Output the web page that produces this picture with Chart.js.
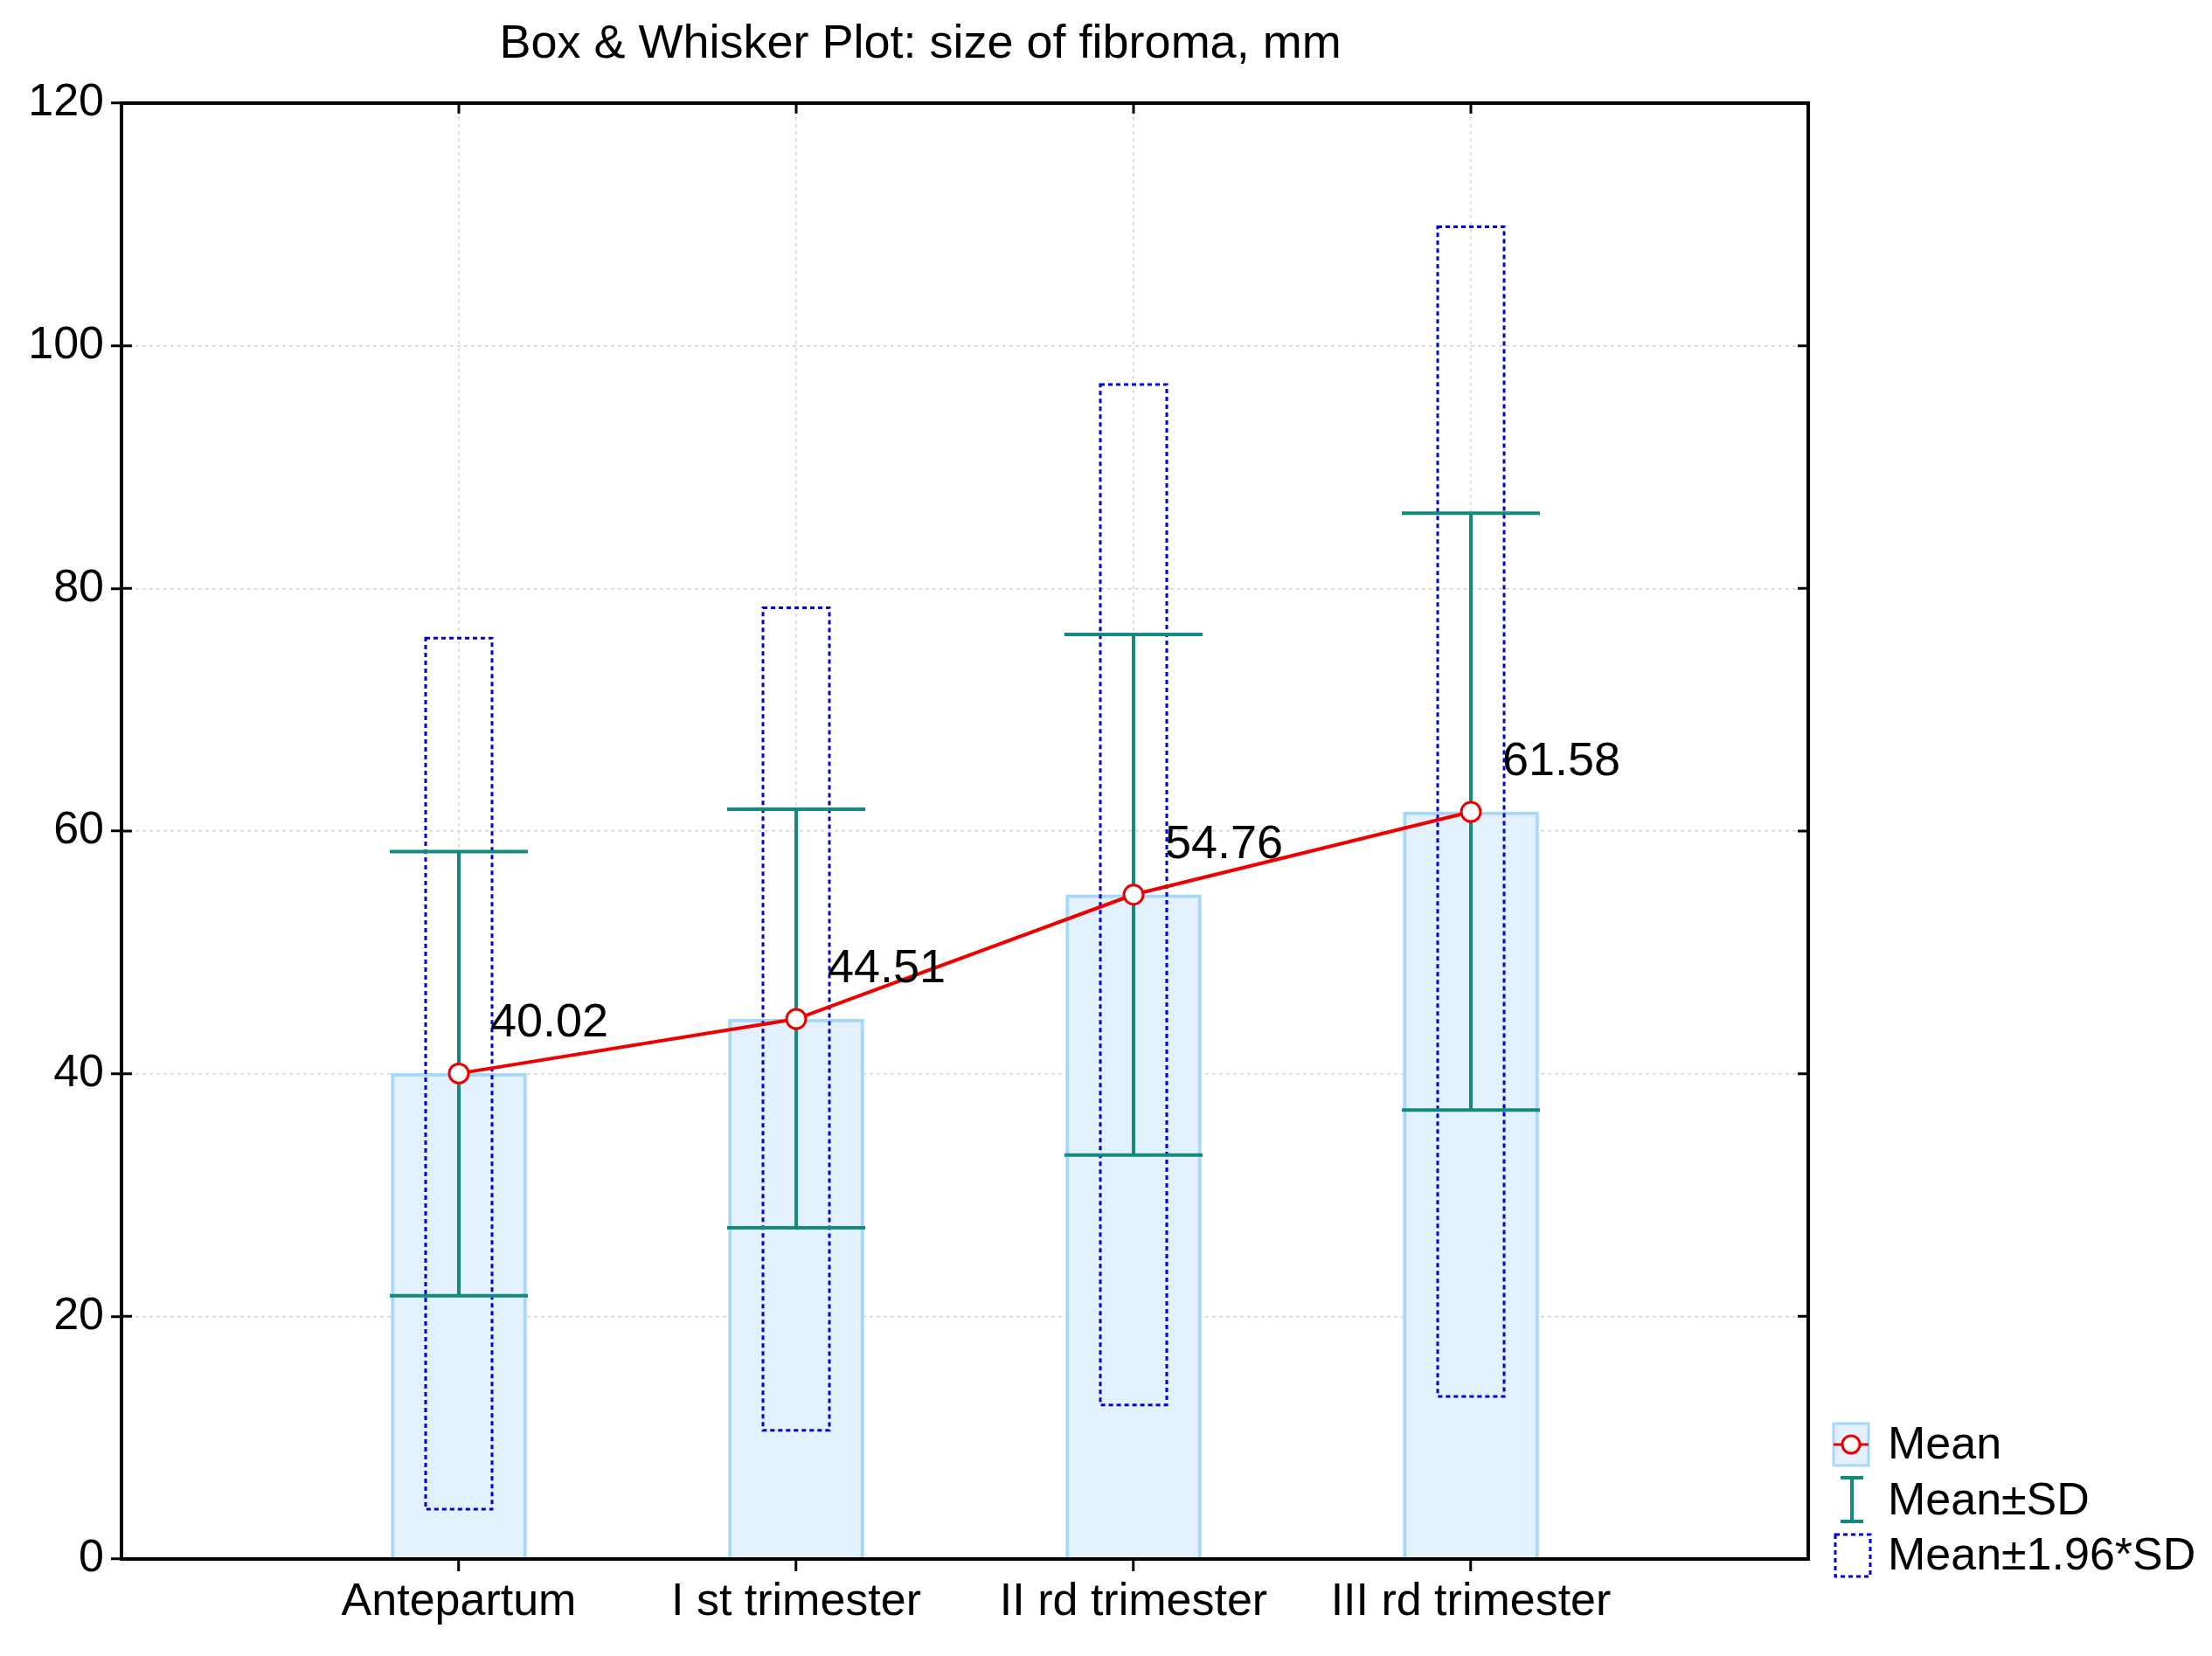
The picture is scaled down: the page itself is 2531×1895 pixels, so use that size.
<!DOCTYPE html>
<html><head><meta charset="utf-8">
<script src="https://cdn.jsdelivr.net/npm/chart.js@4"></script>
<style>html,body{margin:0;padding:0;background:#fff}</style>
</head><body>
<canvas id="c" width="2531" height="1895"></canvas>
<script>
const categories = ["Antepartum","I st trimester","II rd trimester","III rd trimester"];
const means = [40.02, 44.51, 54.76, 61.58];
const sdLow = [21.7, 27.3, 33.3, 37.0];
const sdHigh = [58.3, 61.8, 76.2, 86.2];
const ciLow = [4.1, 10.6, 12.7, 13.4];
const ciHigh = [75.9, 78.4, 96.8, 109.8];
const yTicks = [0,20,40,60,80,100,120];

const FONT = 'Arial, "Liberation Sans", sans-serif';
const pts = (arr) => arr.map((v,i)=>({x:i+1,y:v}));

const overlay = {
  id:'overlay',
  afterDatasetsDraw(chart){
    const {ctx, scales:{x,y}} = chart;
    ctx.save();
    ctx.strokeStyle='#0000dd'; ctx.lineWidth=3; ctx.setLineDash([5,4]);
    categories.forEach((c,i)=>{
      const cx=x.getPixelForValue(i+1);
      const t=y.getPixelForValue(ciHigh[i]), b=y.getPixelForValue(ciLow[i]);
      ctx.strokeRect(cx-38,t,76,b-t);
    });
    ctx.setLineDash([]);
    ctx.strokeStyle='#138a7e'; ctx.lineWidth=4;
    categories.forEach((c,i)=>{
      const cx=x.getPixelForValue(i+1);
      const t=y.getPixelForValue(sdHigh[i]), b=y.getPixelForValue(sdLow[i]);
      ctx.beginPath();
      ctx.moveTo(cx,t);ctx.lineTo(cx,b);
      ctx.moveTo(cx-79,t);ctx.lineTo(cx+79,t);
      ctx.moveTo(cx-79,b);ctx.lineTo(cx+79,b);
      ctx.stroke();
    });
    ctx.restore();
  },
  afterDraw(chart){
    const {ctx, scales:{x,y}, chartArea:a} = chart;
    ctx.save();
    ctx.strokeStyle='#ee0000'; ctx.lineWidth=4;
    ctx.beginPath();
    means.forEach((m,i)=>{const px=x.getPixelForValue(i+1),py=y.getPixelForValue(m); i?ctx.lineTo(px,py):ctx.moveTo(px,py);});
    ctx.stroke();
    means.forEach((m,i)=>{const px=x.getPixelForValue(i+1),py=y.getPixelForValue(m);
      ctx.beginPath();ctx.arc(px,py,11,0,Math.PI*2);ctx.fillStyle='#fff';ctx.fill();ctx.lineWidth=3;ctx.stroke();});
    ctx.fillStyle='#000'; ctx.font='54px '+FONT; ctx.textBaseline='alphabetic'; ctx.textAlign='left';
    means.forEach((m,i)=>{const px=x.getPixelForValue(i+1),py=y.getPixelForValue(m);
      ctx.fillText(m.toFixed(2),px+36,py-42);});
    ctx.strokeStyle='#000'; ctx.lineWidth=4;
    ctx.strokeRect(a.left,a.top,a.right-a.left,a.bottom-a.top);
    ctx.lineWidth=3;
    yTicks.forEach(v=>{const py=y.getPixelForValue(v);ctx.beginPath();ctx.moveTo(a.right-12,py);ctx.lineTo(a.right,py);ctx.moveTo(a.left,py);ctx.lineTo(a.left+12,py);ctx.stroke();});
    [1,2,3,4].forEach(v=>{const px=x.getPixelForValue(v);ctx.beginPath();ctx.moveTo(px,a.top);ctx.lineTo(px,a.top+12);ctx.stroke();});
    ctx.font='54px '+FONT; ctx.textAlign='center'; ctx.fillStyle='#000';
    ctx.fillText('Box & Whisker Plot: size of fibroma, mm',1053,66);
    const lx=2098, items=['Mean','Mean\u00b1SD','Mean\u00b11.96*SD'];
    ctx.textAlign='left'; ctx.font='52px '+FONT;
    const ys=[1653,1717,1780];
    ctx.fillStyle='#e3f1fc'; ctx.fillRect(lx,ys[0]-24,40,48);
    ctx.strokeStyle='#a8d8f8'; ctx.lineWidth=3; ctx.strokeRect(lx,ys[0]-24,40,48);
    ctx.strokeStyle='#ee0000'; ctx.beginPath();ctx.moveTo(lx,ys[0]);ctx.lineTo(lx+40,ys[0]);ctx.stroke();
    ctx.beginPath();ctx.arc(lx+20,ys[0],10,0,Math.PI*2);ctx.fillStyle='#fff';ctx.fill();ctx.stroke();
    ctx.strokeStyle='#138a7e'; ctx.lineWidth=4; ctx.beginPath();
    ctx.moveTo(lx+8,ys[1]-26);ctx.lineTo(lx+34,ys[1]-26);ctx.moveTo(lx+21,ys[1]-26);ctx.lineTo(lx+21,ys[1]+24);
    ctx.moveTo(lx+8,ys[1]+24);ctx.lineTo(lx+34,ys[1]+24);ctx.stroke();
    ctx.strokeStyle='#0000dd'; ctx.lineWidth=3; ctx.setLineDash([5,4]);
    ctx.strokeRect(lx+2,ys[2]-24,40,48); ctx.setLineDash([]);
    ctx.fillStyle='#000'; ctx.textBaseline='middle';
    items.forEach((t,i)=>ctx.fillText(t,lx+62,ys[i]+2));
    ctx.restore();
  }
};

new Chart(document.getElementById('c'),{
  type:'bar',
  data:{datasets:[
    {type:'bar',data:pts(means),backgroundColor:'#e3f1fc',borderColor:'#a8d8f8',borderWidth:4,barThickness:155,order:3},
    {type:'line',data:pts(means),borderColor:'rgba(0,0,0,0)',pointRadius:0,order:1}
  ]},
  options:{
    responsive:false,animation:false,
    layout:{padding:{left:0,top:118,right:462,bottom:0}},
    plugins:{legend:{display:false},tooltip:{enabled:false}},
    scales:{
      x:{type:'linear',min:0,max:5,offset:false,
        afterBuildTicks(s){s.ticks=[1,2,3,4].map(v=>({value:v}));},
        afterFit(s){s.height=111;},
        ticks:{callback:(v)=>categories[v-1]||'',font:{size:52,family:FONT},color:'#000',maxRotation:0,autoSkip:false,padding:4},
        grid:{color:'#d4d4d4',lineWidth:1.5,tickLength:14,tickColor:'#000',tickWidth:3,offset:false},
        border:{display:false,dash:[4,4]}},
      y:{min:0,max:120,
        afterBuildTicks(s){s.ticks=yTicks.map(v=>({value:v}));},
        afterFit(s){s.width=139;},
        ticks:{font:{size:52,family:FONT},color:'#000',padding:8},
        grid:{color:'#d4d4d4',lineWidth:1.5,tickLength:12,tickColor:'#000',tickWidth:3},
        border:{display:false,dash:[4,4]}}
    }
  },
  plugins:[overlay]
});
</script>
</body></html>
